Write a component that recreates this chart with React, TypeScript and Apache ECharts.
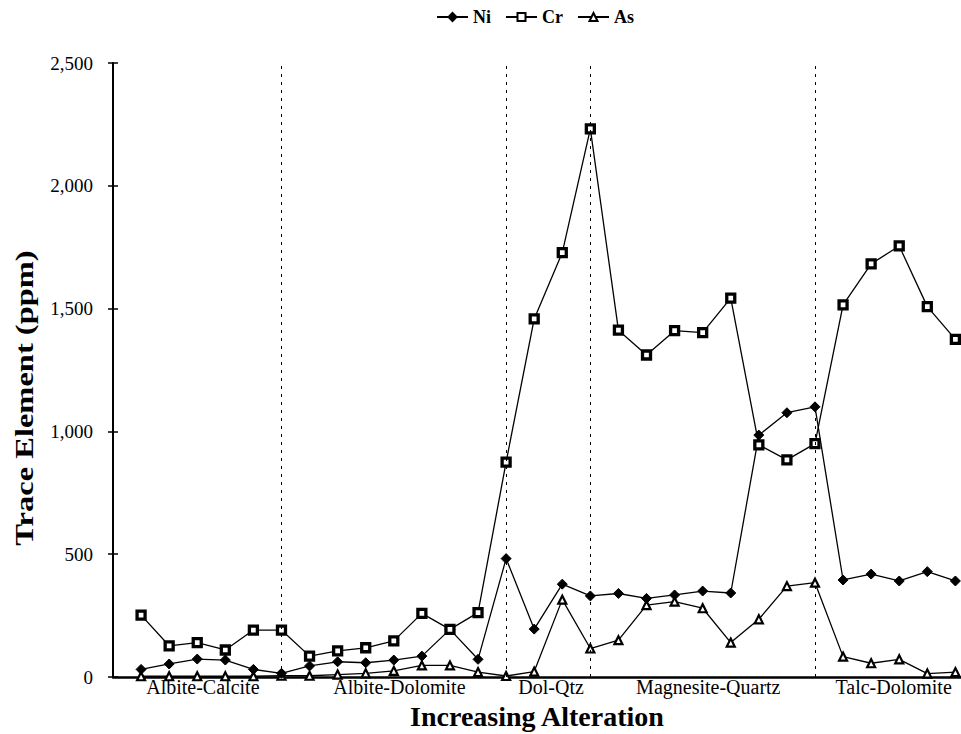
import React, { useEffect, useRef } from "react";
import * as echarts from "echarts";

const sampleIndex = [1, 2, 3, 4, 5, 6, 7, 8, 9, 10, 11, 12, 13, 14, 15, 16, 17, 18, 19, 20, 21, 22, 23, 24, 25, 26, 27, 28, 29, 30];

const niValues = [31, 53, 73, 69, 31, 15, 45, 62, 58, 69, 85, 194, 72, 482, 195, 378, 330, 340, 320, 334, 350, 342, 985, 1076, 1100, 395, 419, 391, 429, 391];
const crValues = [252, 127, 140, 110, 191, 191, 85, 106, 119, 147, 259, 194, 262, 875, 1458, 1728, 2232, 1412, 1311, 1410, 1402, 1543, 945, 884, 950, 1515, 1682, 1755, 1508, 1375];
const asValues = [3, 3, 3, 3, 3, 5, 5, 10, 15, 25, 47, 47, 20, 4, 22, 315, 116, 150, 293, 307, 280, 140, 235, 370, 384, 83, 56, 72, 14, 20];

const sectionNames = ["Albite-Calcite", "Albite-Dolomite", "Dol-Qtz", "Magnesite-Quartz", "Talc-Dolomite"];
const sectionLabelAt = [3.2, 10.2, 15.6, 21.2, 27.8];
const sectionBoundaries = [6, 14, 17, 25];

const xTitle = "Increasing Alteration";
const yTitle = "Trace Element (ppm)";

const FONT = "'Liberation Serif', 'Times New Roman', serif";

export default function App() {
  const ref = useRef<HTMLDivElement>(null);

  useEffect(() => {
    document.body.style.margin = "0";
    if (!ref.current) return;
    const chart = echarts.init(ref.current, undefined, { renderer: "svg" });

    const toPairs = (vals: number[]) => vals.map((v, i) => [sampleIndex[i], v]);
    const lineStyle = { color: "#000", width: 1.3 };

    chart.setOption({
      animation: false,
      backgroundColor: "#fff",
      textStyle: { fontFamily: FONT, color: "#000" },
      legend: {
        top: 3,
        left: 431,
        itemWidth: 31,
        itemHeight: 10,
        itemGap: 14,
        textStyle: { fontFamily: FONT, fontSize: 18, fontWeight: "bold", color: "#000" },
        data: ["Ni", "Cr", "As"],
      },
      graphic: [
        {
          type: "text",
          x: 24,
          y: 398,
          rotation: Math.PI / 2,
          scaleX: 1.3,
          style: {
            text: yTitle,
            fontFamily: FONT,
            fontSize: 25,
            fontWeight: "bold",
            fill: "#000",
            align: "center",
            verticalAlign: "middle",
          },
        },
      ],
      grid: { left: 113, right: 0, top: 63, bottom: 57, outerBoundsMode: "none", containLabel: false },
      xAxis: {
        type: "value",
        min: 0,
        max: 30.2,
        name: xTitle,
        nameLocation: "middle",
        nameGap: 25,
        nameTextStyle: { fontFamily: FONT, fontSize: 28, fontWeight: "bold", color: "#000" },
        axisLine: { show: true, lineStyle: { color: "#000", width: 2.5 } },
        axisTick: { show: false },
        splitLine: { show: false },
        axisLabel: {
          customValues: sectionLabelAt,
          fontFamily: FONT,
          fontSize: 20,
          color: "#000",
          margin: 0,
          formatter: (v: number) => {
            const k = sectionLabelAt.indexOf(v);
            return k >= 0 ? sectionNames[k] : "";
          },
        },
      },
      yAxis: [
        {
          type: "value",
          min: 0,
          max: 2500,
          interval: 500,
          axisLine: { show: true, lineStyle: { color: "#000", width: 2 } },
          axisTick: { show: true, length: 5, lineStyle: { color: "#000", width: 1.5 } },
          splitLine: { show: false },
          axisLabel: {
            fontFamily: FONT,
            fontSize: 19,
            color: "#000",
            margin: 20,
            formatter: (v: number) => v.toLocaleString("en-US"),
          },
        },
        {
          type: "value",
          min: 0,
          max: 2500,
          interval: 500,
          position: "left",
          axisLine: { show: false },
          axisTick: { show: true, inside: true, length: 5, lineStyle: { color: "#000", width: 1.5 } },
          axisLabel: { show: false },
          splitLine: { show: false },
        },
      ],
      series: [
        {
          name: "Ni",
          type: "line",
          data: toPairs(niValues),
          symbol: "diamond",
          symbolSize: 10,
          itemStyle: { color: "#000", borderColor: "#000", borderWidth: 1 },
          lineStyle,
          z: 3,
          markLine: {
            silent: true,
            symbol: "none",
            label: { show: false },
            lineStyle: { color: "#000", width: 1, type: [3, 5] },
            data: sectionBoundaries.map((x) => ({ xAxis: x })),
          },
        },
        {
          name: "Cr",
          type: "line",
          data: toPairs(crValues),
          symbol: "rect",
          symbolSize: 8,
          itemStyle: { color: "#fff", borderColor: "#000", borderWidth: 3.3 },
          lineStyle,
          z: 4,
        },
        {
          name: "As",
          type: "line",
          data: toPairs(asValues),
          symbol: "triangle",
          symbolSize: 8,
          itemStyle: { color: "#fff", borderColor: "#000", borderWidth: 2.2 },
          lineStyle,
          z: 2,
        },
      ],
    });

    return () => chart.dispose();
  }, []);

  return <div ref={ref} style={{ width: 961, height: 734 }} />;
}
